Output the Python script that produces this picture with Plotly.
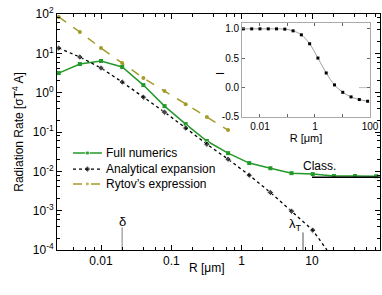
import plotly.graph_objects as go

# ---------------- data ----------------
R = [0.0025, 0.005, 0.01, 0.02, 0.04, 0.08, 0.16, 0.32, 0.64,
     1.28, 2.56, 5.12, 10.24, 20.48, 40.96, 81.92]

full_numerics = [3.15, 5.35, 6.4, 4.5, 1.56, 0.456, 0.159, 0.059, 0.029,
                 0.0162, 0.012, 0.0090, 0.0085, 0.0076, 0.0076, 0.0075]

R_analytic = [0.0025, 0.005, 0.01, 0.02, 0.04, 0.08, 0.16, 0.32, 0.64,
              1.28, 2.56, 5.12, 10.24, 16.3]
analytical = [13.6, 8.05, 4.23, 1.86, 0.77, 0.32, 0.126, 0.049, 0.0204,
              0.0080, 0.0029, 0.00097, 0.00032, 0.0001]

R_rytov = [0.0025, 0.005, 0.01, 0.02, 0.04, 0.08, 0.16, 0.32, 0.64]
rytov = [84, 34.9, 13.6, 5.66, 2.35, 1.10, 0.51, 0.24, 0.112]

class_R = [10, 100]
class_rate = [0.0071, 0.0071]

inset_I = [1.0, 1.0, 1.0, 1.0, 1.0, 0.995, 0.966, 0.898, 0.746,
           0.503, 0.249, 0.046, -0.08, -0.158, -0.203, -0.232]
inset_class_R = [40, 100]
inset_class_I = [0.0, 0.0]

delta_R = [0.02, 0.02]
delta_rate = [1e-4, 3.8e-4]
lambdaT_R = [7.45, 7.45]
lambdaT_rate = [1e-4, 2.8e-4]

x_tickvals = [0.01, 0.1, 1, 10]
x_ticktext = ["0.01", "0.1", "1", "10"]
y_tickvals = [1e2, 1e1, 1e0, 1e-1, 1e-2, 1e-3, 1e-4]
y_ticktext = ["10<sup>2</sup>", "10<sup>1</sup>", "10<sup>0</sup>", "10<sup>-1</sup>",
              "10<sup>-2</sup>", "10<sup>-3</sup>", "10<sup>-4</sup>"]
inset_x_tickvals = [0.01, 0.1, 1, 10, 100]
inset_x_ticktext = ["0.01", "", "1", "", "100"]
inset_y_tickvals = [1.0, 0.5, 0.0, -0.5]
inset_y_ticktext = ["1.0", "0.5", "0.0", "-0.5"]

legend_labels = ["Full numerics", "Analytical expansion", "Rytov\u2019s expression"]

GREEN = "#23992a"
OLIVE = "#a39b2a"
FONT = "Liberation Sans"

minor_vals = []
for d in [1e-3, 1e-2, 1e-1, 1, 10]:
    for m in [2, 4, 6, 8]:
        minor_vals.append(m * d)
y_minor = []
for d in [1e-4, 1e-3, 1e-2, 1e-1, 1, 10]:
    for m in [2, 4, 6, 8]:
        y_minor.append(m * d)

styles = [
    dict(line=dict(color=GREEN, width=1.5),
         marker=dict(symbol="square", size=4, color=GREEN)),
    dict(line=dict(color="black", width=1.3, dash="dot"),
         marker=dict(symbol="diamond", size=5, color="black")),
    dict(line=dict(color=OLIVE, width=1.5, dash="dash"),
         marker=dict(symbol="circle", size=4, color=OLIVE)),
]

fig = go.Figure()

fig.add_trace(go.Scatter(x=R, y=full_numerics, mode="lines+markers",
                         name=legend_labels[0], showlegend=False, **styles[0]))
st = dict(styles[1])
st["marker"] = dict(st["marker"], size=[5] * (len(R_analytic) - 1) + [0])
fig.add_trace(go.Scatter(x=R_analytic, y=analytical, mode="lines+markers",
                         name=legend_labels[1], showlegend=False, **st))
fig.add_trace(go.Scatter(x=R_rytov, y=rytov, mode="lines+markers",
                         name=legend_labels[2], showlegend=False, **styles[2]))
fig.add_trace(go.Scatter(x=class_R, y=class_rate, mode="lines", showlegend=False,
                         line=dict(color="black", width=1.5)))
fig.add_trace(go.Scatter(x=delta_R, y=delta_rate, mode="lines", showlegend=False,
                         line=dict(color="#aaaaaa", width=1.5)))
fig.add_trace(go.Scatter(x=lambdaT_R, y=lambdaT_rate, mode="lines", showlegend=False,
                         line=dict(color="#555555", width=1)))

# inset
fig.add_trace(go.Scatter(
    x=R, y=inset_I, mode="lines+markers", showlegend=False,
    xaxis="x2", yaxis="y2", line=dict(color="#a0a0a0", width=1, shape="spline"),
    marker=dict(symbol="square", size=3, color="black")))
fig.add_trace(go.Scatter(
    x=inset_class_R, y=inset_class_I, mode="lines", showlegend=False,
    xaxis="x2", yaxis="y2", line=dict(color="#bbbbbb", width=1)))

# compact legend drawn on a helper axis (0..1 over the plot area)
legend_x = [0.0495, 0.094, 0.139]
legend_y = [0.411, 0.343, 0.280]
for lab, ly, s in zip(legend_labels, legend_y, styles):
    ss = dict(s)
    ss["marker"] = dict(s["marker"], size=[0, s["marker"]["size"], 0])
    fig.add_trace(go.Scatter(x=legend_x, y=[ly] * 3, mode="lines+markers",
                             showlegend=False, xaxis="x3", yaxis="y3",
                             hoverinfo="skip", **ss))
    fig.add_annotation(x=0.146, y=ly, xref="x3", yref="y3", text=lab,
                       showarrow=False, xanchor="left", yanchor="middle",
                       font=dict(size=12))

fig.update_layout(
    width=382, height=295,
    margin=dict(l=57, r=2, t=14, b=45),
    paper_bgcolor="white", plot_bgcolor="white",
    font=dict(family=FONT, size=12, color="black"),
    showlegend=False,
    xaxis=dict(type="log", range=[-2.626, 1.967], showgrid=False, zeroline=False,
               showline=True, linecolor="black", linewidth=1, mirror="allticks",
               ticks="inside", ticklen=5, tickcolor="black", automargin=False,
               tickvals=x_tickvals, ticktext=x_ticktext,
               tickfont=dict(size=12),
               minor=dict(tickvals=minor_vals, ticks="inside", ticklen=3,
                          tickcolor="black", showgrid=False),
               domain=[0, 1]),
    yaxis=dict(type="log", range=[-4, 2], showgrid=False, zeroline=False,
               showline=True, linecolor="black", linewidth=1, mirror="allticks",
               ticks="inside", ticklen=5, tickcolor="black", automargin=False,
               tickvals=y_tickvals, ticktext=y_ticktext, tickfont=dict(size=12),
               minor=dict(tickvals=y_minor, ticks="inside", ticklen=3,
                          tickcolor="black", showgrid=False),
               title=dict(text="Radiation Rate [\u03c3T<sup>4</sup> A]",
                          font=dict(size=12), standoff=6),
               domain=[0, 1]),
    xaxis2=dict(type="log", range=[-2.65, 2.0], domain=[0.573, 0.969],
                anchor="y2", showgrid=False, zeroline=False, automargin=False,
                showline=True, linecolor="#aaaaaa", linewidth=1, mirror="allticks",
                ticks="inside", ticklen=3, tickcolor="#666666",
                tickvals=inset_x_tickvals, ticktext=inset_x_ticktext,
                tickfont=dict(size=10), ticklabeloverflow="allow",
                title=dict(text="R [\u03bcm]", font=dict(size=11), standoff=0)),
    yaxis2=dict(range=[-0.5, 1.1], domain=[0.5636, 0.962], anchor="x2",
                showgrid=False, zeroline=False, automargin=False,
                showline=True, linecolor="#aaaaaa", linewidth=1, mirror="allticks",
                ticks="inside", ticklen=3, tickcolor="#666666",
                tickvals=inset_y_tickvals, ticktext=inset_y_ticktext,
                tickfont=dict(size=10)),
    xaxis3=dict(overlaying="x", range=[0, 1], visible=False),
    yaxis3=dict(overlaying="y", range=[0, 1], visible=False),
)

# inset y-axis title (rotated "I")
fig.add_annotation(x=0.505, y=0.746, xref="paper", yref="paper", text="I",
                   textangle=-90, showarrow=False, xanchor="center", yanchor="middle",
                   font=dict(size=11))
# main x-axis title
fig.add_annotation(x=0.464, y=-0.076, xref="paper", yref="paper", text="R [\u03bcm]",
                   showarrow=False, xanchor="center", yanchor="middle",
                   font=dict(size=12))
fig.add_annotation(x=-1.699, y=-3.28, xref="x", yref="y", text="\u03b4",
                   showarrow=False, font=dict(size=13), xanchor="center", yanchor="middle")
fig.add_annotation(x=0.77, y=-3.35, xref="x", yref="y", text="\u03bb<sub>T</sub>",
                   showarrow=False, font=dict(size=13), xanchor="center", yanchor="middle")
fig.add_annotation(x=1.11, y=-1.86, xref="x", yref="y", text="Class.",
                   showarrow=False, font=dict(size=12), xanchor="center", yanchor="middle")

fig.write_html("out.html", config={"displayModeBar": False},
               post_script="document.body.style.margin='0';document.body.style.padding='0';")
